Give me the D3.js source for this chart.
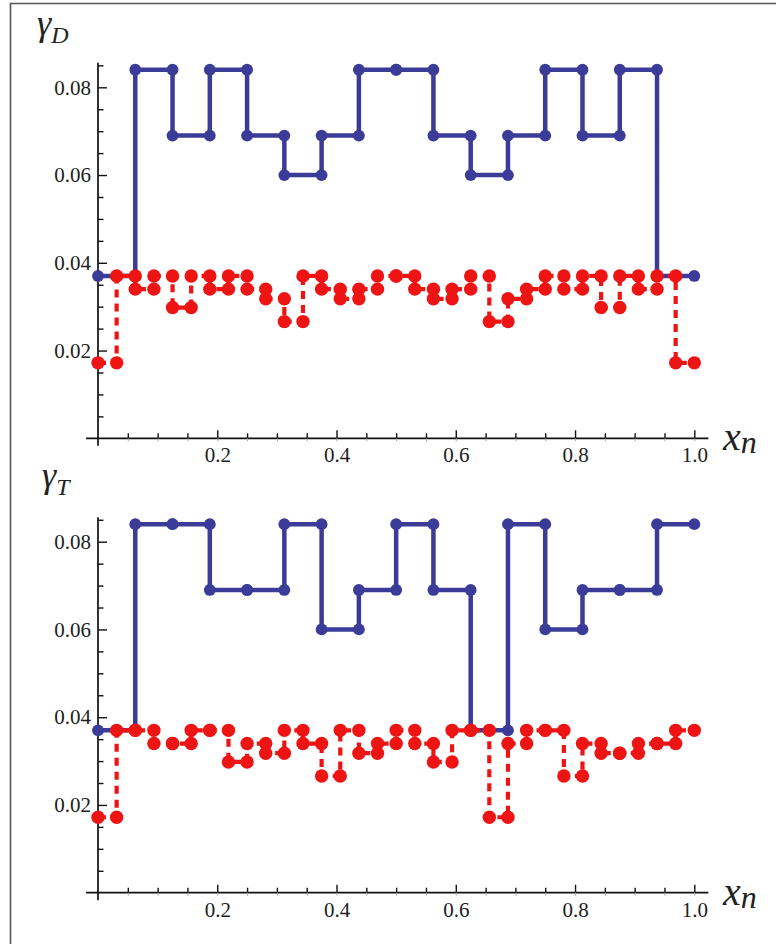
<!DOCTYPE html>
<html><head><meta charset="utf-8">
<script src="https://cdn.jsdelivr.net/npm/d3@7"></script>
<style>body{margin:0;background:#fff} svg{display:block}</style>
</head><body><svg id="c" width="776" height="944"></svg>
<script>
// piecewise-constant values (blue: 16 intervals, red: 32 intervals on [0,1])
const blueD = [0.037,0.084,0.069,0.084,0.069,0.060,0.069,0.084,0.084,0.069,0.060,0.069,0.084,0.069,0.084,0.037];
const redD  = [0.0172,0.037,0.034,0.037,0.0298,0.037,0.034,0.037,0.034,0.0318,0.0266,0.037,0.034,0.0318,0.034,0.037,
               0.037,0.034,0.0318,0.034,0.037,0.0266,0.0318,0.034,0.037,0.034,0.037,0.0298,0.037,0.034,0.037,0.0172];
const blueT = [0.037,0.084,0.084,0.069,0.069,0.084,0.060,0.069,0.084,0.069,0.037,0.084,0.060,0.069,0.069,0.084];
const redT  = [0.0172,0.037,0.037,0.034,0.034,0.037,0.037,0.0298,0.034,0.0318,0.037,0.034,0.0266,0.037,0.0318,0.034,
               0.037,0.034,0.0298,0.037,0.037,0.0172,0.034,0.037,0.037,0.0266,0.034,0.0318,0.0318,0.034,0.034,0.037];
const xMajor = [0.2,0.4,0.6,0.8,1.0];
const xMajorLabels = ["0.2","0.4","0.6","0.8","1.0"];
const xMinor = [0.05,0.1,0.15,0.25,0.3,0.35,0.45,0.5,0.55,0.65,0.7,0.75,0.85,0.9,0.95];
const yMajor = [0.02,0.04,0.06,0.08];
const yMajorLabels = ["0.02","0.04","0.06","0.08"];
const yMinor = [0.005,0.01,0.015,0.025,0.03,0.035,0.045,0.05,0.055,0.065,0.07,0.075,0.085];
const panels = [
  {name:"D", blue: blueD, red: redD, top: 0},
  {name:"T", blue: blueT, red: redT, top: 454.4, gx: 5}
];

const BLUE = "#3b3b98", RED = "#ee1414";
const FONT = "'Liberation Serif'";
const svg = d3.select("#c");
svg.append("rect").attr("width",776).attr("height",944).attr("fill","#fff");
svg.append("path").attr("d","M10.5,960V3.5H800").attr("fill","none").attr("stroke","#555").attr("stroke-width",1.6);

const x = d3.scaleLinear().domain([0,1]).range([98,694.3]);

function stepPts(vals){
  const n = vals.length, pts = [];
  vals.forEach((v,j)=>{ pts.push([j/n, v]); pts.push([(j+1)/n, v]); });
  return pts;
}

panels.forEach(p=>{
  const g = svg.append("g").attr("transform",`translate(0,${p.top})`);
  const y = d3.scaleLinear().domain([0,0.08]).range([438.3,87.3]);

  g.append("line").attr("x1",x(-0.02)).attr("x2",x(1.0236)).attr("y1",y(0)).attr("y2",y(0))
    .attr("stroke","#111").attr("stroke-width",1.7);
  g.append("line").attr("x1",x(0)).attr("x2",x(0)).attr("y1",y(-0.0017)).attr("y2",y(0.0856))
    .attr("stroke","#111").attr("stroke-width",1.7);

  const yMinG = g.append("g").attr("transform",`translate(${x(0)},0)`)
    .call(d3.axisRight(y).tickValues(yMinor).tickSize(5.5).tickFormat(""));
  const yMajG = g.append("g").attr("transform",`translate(${x(0)},0)`)
    .call(d3.axisLeft(y).tickValues(yMajor).tickSize(-9).tickPadding(7).tickFormat((d,i)=>yMajorLabels[i]));
  const xMinG = g.append("g").attr("transform",`translate(0,${y(0)})`)
    .call(d3.axisBottom(x).tickValues(xMinor).tickSize(-5).tickFormat(""));
  const xMajG = g.append("g").attr("transform",`translate(0,${y(0)})`)
    .call(d3.axisBottom(x).tickValues(xMajor).tickSize(-8).tickPadding(9).tickFormat((d,i)=>xMajorLabels[i]));
  const xLow = g.append("g").attr("transform",`translate(0,${y(0)})`)
    .call(d3.axisBottom(x).tickValues(xMinor.concat(xMajor)).tickSize(3).tickFormat(""));
  xLow.selectAll("line").attr("stroke","#aaa");
  [yMinG,yMajG,xMinG,xMajG,xLow].forEach(a=>{
    a.select(".domain").remove();
    a.attr("font-family",FONT).attr("font-size",21);
    a.selectAll("text").attr("fill","#222").attr("font-family",FONT).attr("font-size",21);
  });
  [yMinG,yMajG,xMinG,xMajG].forEach(a=>a.selectAll("line").attr("stroke","#111").attr("stroke-width",1.4));

  const line = d3.line().x(d=>x(d[0])).y(d=>y(d[1]));
  const bp = stepPts(p.blue), rp = stepPts(p.red);
  g.append("path").attr("d",line(bp)).attr("fill","none").attr("stroke",BLUE).attr("stroke-width",4.5);
  g.selectAll(".bd").data(bp).join("circle").attr("class","bd")
    .attr("cx",d=>x(d[0])).attr("cy",d=>y(d[1])).attr("r",5.9).attr("fill",BLUE);
  g.append("path").attr("d",line(rp)).attr("fill","none").attr("stroke",RED).attr("stroke-width",4.2)
    .attr("stroke-dasharray","8,6");
  g.selectAll(".rd").data(rp).join("circle").attr("class","rd")
    .attr("cx",d=>x(d[0])).attr("cy",d=>y(d[1])).attr("r",6.7).attr("fill",RED);

  const gx = p.gx || 0;
  const t = g.append("text").attr("font-family",FONT).attr("x",37+gx).attr("y",35 + (p.name==="T"?-2:0))
    .attr("font-style","italic").attr("fill","#222");
  t.append("tspan").attr("font-size",36).text("γ");
  t.append("tspan").attr("font-size",24).attr("dy",8).text(p.name);
  const xl = g.append("text").attr("font-family",FONT).attr("x",723).attr("y",y(0)+12)
    .attr("font-style","italic").attr("fill","#222");
  xl.append("tspan").attr("font-size",40).text("x");
  xl.append("tspan").attr("font-size",32).attr("dy",3).text("n");
});
</script></body></html>
